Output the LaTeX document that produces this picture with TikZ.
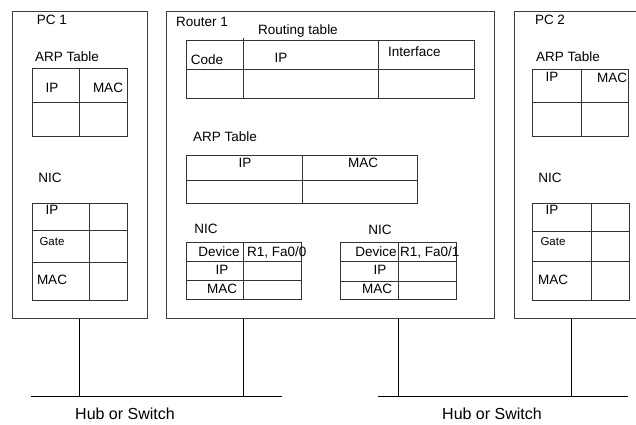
\documentclass[tikz,border=0pt]{standalone}
\usepackage{fontspec}
\setmainfont{Liberation Sans}
\begin{document}
\begin{tikzpicture}[x=1pt,y=-1pt,
  frame/.style={draw=black!75,line width=0.8pt,inner sep=0pt,anchor=north west},
  grid/.style={draw=black!80,line width=0.8pt},
  wire/.style={draw=black,line width=0.8pt},
  lbl/.style={inner sep=0pt,font=\fontsize{13.5pt}{16pt}\selectfont},
  sml/.style={inner sep=0pt,font=\fontsize{11.5pt}{14pt}\selectfont},
  hubtxt/.style={inner sep=0pt,font=\fontsize{16pt}{19pt}\selectfont}]
\useasboundingbox (0,0) rectangle (636,424);
\fill[white] (0,0) rectangle (636,424);

% ---------- device frames ----------
\node[frame,minimum width=135pt,minimum height=307pt] (pc1) at (12,11) {};
\node[frame,minimum width=328pt,minimum height=307pt] (r1) at (166,11) {};
\node[frame,minimum width=130pt,minimum height=307pt] (pc2) at (514,11) {};

% ---------- PC 1 ----------
\node[lbl] (pc1name) at (52,20) {PC 1};
\node[lbl] (pc1arp) at (67,57) {ARP Table};
\draw[grid] (32,68) rectangle (127,136) (32,102) -- (127,102) (79,68) -- (79,136);
\node[lbl] (pc1arpip) at (52,88) {IP};
\node[lbl] (pc1arpmac) at (108,88) {MAC};
\node[lbl] (pc1nic) at (50,178) {NIC};
\draw[grid] (32,203) rectangle (127,300) (32,230) -- (127,230) (32,262) -- (127,262) (89,203) -- (89,300);
\node[lbl] (pc1ip) at (52,210) {IP};
\node[sml] (pc1gate) at (52,242) {Gate};
\node[lbl] (pc1mac) at (52,280) {MAC};

% ---------- Router 1 ----------
\node[lbl] (r1name) at (202,22) {Router 1};
\node[lbl] (r1rt) at (298,31) {Routing table};
\draw[grid] (186,40) rectangle (474,98) (186,69) -- (474,69) (243,38) -- (243,98) (378,40) -- (378,98);
\node[lbl] (r1code) at (207,60) {Code};
\node[lbl] (r1rtip) at (281,58) {IP};
\node[lbl,anchor=west] (r1if) at (388,52) {Interface};
\node[lbl] (r1arp) at (225,137) {ARP Table};
\draw[grid] (186,155) rectangle (417,203) (186,180) -- (417,180) (302,155) -- (302,203);
\node[lbl] (r1arpip) at (245,163) {IP};
\node[lbl] (r1arpmac) at (363,163) {MAC};

% NIC Fa0/0
\node[lbl] (r1nica) at (206,229) {NIC};
\draw[grid] (186,242) rectangle (301,299) (186,261) -- (301,261) (186,280) -- (301,280) (243,242) -- (243,299);
\node[lbl] (r1deva) at (219,252) {Device};
\node[lbl,anchor=west] (r1ifa) at (247,252) {R1, Fa0/0};
\node[lbl] (r1ipa) at (222,270) {IP};
\node[lbl] (r1maca) at (222,289) {MAC};

% NIC Fa0/1
\node[lbl] (r1nicb) at (380,230) {NIC};
\draw[grid] (340,242) rectangle (456,299) (340,261) -- (456,261) (340,281) -- (456,281) (398,242) -- (398,299);
\node[lbl] (r1devb) at (376,252) {Device};
\node[lbl,anchor=west] (r1ifb) at (400,252) {R1, Fa0/1};
\node[lbl] (r1ipb) at (380,270) {IP};
\node[lbl] (r1macb) at (377,289) {MAC};

% ---------- PC 2 ----------
\node[lbl] (pc2name) at (550,20) {PC 2};
\node[lbl] (pc2arp) at (568,57) {ARP Table};
\draw[grid] (532,69) rectangle (628,136) (532,102) -- (628,102) (581,69) -- (581,136);
\node[lbl] (pc2arpip) at (552,77) {IP};
\node[lbl] (pc2arpmac) at (612,78) {MAC};
\node[lbl] (pc2nic) at (550,178) {NIC};
\draw[grid] (532,203) rectangle (629,300) (532,231) -- (629,231) (532,261) -- (629,261) (591,203) -- (591,300);
\node[lbl] (pc2ip) at (552,210) {IP};
\node[sml] (pc2gate) at (553,242) {Gate};
\node[lbl] (pc2mac) at (553,280) {MAC};

% ---------- hubs / switches ----------
\coordinate (hubAl) at (31,396);
\coordinate (hubAr) at (282,396);
\coordinate (hubBl) at (378,396);
\coordinate (hubBr) at (628,396);
\draw[wire] (hubAl) -- (hubAr);
\draw[wire] (hubBl) -- (hubBr);
\node[hubtxt] (hubA) at (125,414) {Hub or Switch};
\node[hubtxt] (hubB) at (492,414) {Hub or Switch};

% ---------- cables ----------
\coordinate (tapA1) at (79,396);
\coordinate (tapA2) at (243,396);
\coordinate (tapB1) at (398,396);
\coordinate (tapB2) at (571,396);
\draw[wire] (pc1.south -| tapA1) -- (tapA1);
\draw[wire] (r1.south -| tapA2) -- (tapA2);
\draw[wire] (r1.south -| tapB1) -- (tapB1);
\draw[wire] (pc2.south -| tapB2) -- (tapB2);
\end{tikzpicture}
\end{document}
